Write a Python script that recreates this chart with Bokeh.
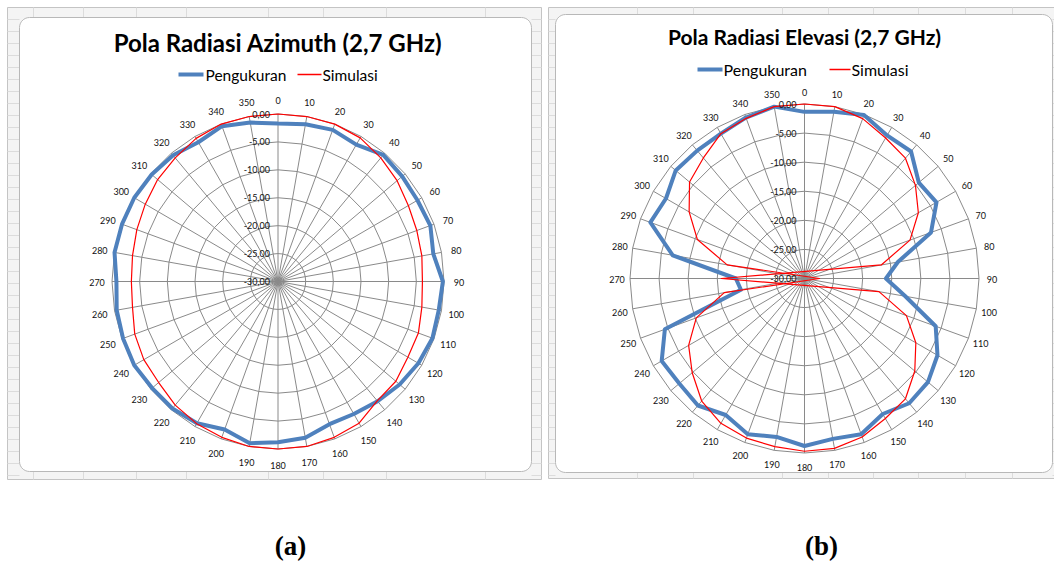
import numpy as np
from bokeh.plotting import figure
from bokeh.models import Range1d
from bokeh.embed import file_html
from bokeh.resources import INLINE
from bokeh.core.properties import value

# ---------------- data ----------------
angles = list(range(0, 360, 10))
angle_labels = [str(a) for a in angles]

azimuth_pengukuran = [-1.7, -1.4, -1.1, -1.7, -0.4, -0.7, -0.9, -0.7, -1.5, -0.2,
                      -0.5, -0.3, -0.7, -1.3, -2.0, -2.6, -2.8, -1.6, -1.2, -0.6,
                      -1.8, -0.7, -0.3, -0.3, 0.0, -0.2, -0.4, -0.8, 0.0, 0.0,
                      0.0, -0.2, -0.5, -1.2, -0.4, -1.1]
azimuth_simulasi = [0.0, 0.0, 0.0, -0.3, -1.1, -1.9, -2.8, -3.3, -3.6, -3.9,
                    -3.6, -3.0, -2.9, -2.2, -2.1, -0.7, -0.3, 0.0, 0.0, 0.0,
                    -0.3, -0.6, -1.1, -1.85, -2.0, -2.45, -3.3, -3.5, -3.3, -2.85,
                    -2.3, -1.6, -1.1, -0.4, 0.0, 0.0]
elevasi_pengukuran = [-1.35, -0.9, -0.1, -1.6, -1.5, -4.35, -3.8, -6.85, -13.7, -16.0,
                      -12.4, -6.0, -3.6, -2.3, -2.0, -3.1, -1.5, -2.0, -1.2, -2.35,
                      -1.5, -2.9, -1.5, -1.9, -1.65, -4.45, -18.9, -18.2, -7.0, -1.8,
                      -2.5, -1.1, -1.3, -1.25, -0.55, 0.0]
elevasi_simulasi = [0.0, 0.0, -0.75, -2.1, -3.0, -5.1, -7.4, -10.7, -16.6, -44.3,
                    -17.0, -11.35, -7.9, -5.25, -3.0, -2.2, -1.0, -0.35, -0.3, -0.65,
                    -0.8, -1.25, -2.5, -4.8, -7.0, -10.2, -16.0, -32.6, -16.5, -10.4,
                    -7.1, -4.2, -2.95, -1.25, -0.7, 0.0]

radial_ticks = [0, -5, -10, -15, -20, -25, -30]
radial_tick_labels = ["0,00", "-5,00", "-10,00", "-15,00", "-20,00", "-25,00", "-30,00"]
titles = ["Pola Radiasi Azimuth (2,7 GHz)", "Pola Radiasi Elevasi (2,7 GHz)"]
legend_names = ["Pengukuran", "Simulasi"]
captions = ["(a)", "(b)"]

# ---------------- layout ----------------
W, H = 1054, 561
p = figure(width=W, height=H, x_range=Range1d(0, W), y_range=Range1d(H, 0),
           output_backend="svg", toolbar_location=None, min_border=0,
           x_axis_location=None, y_axis_location=None)
p.grid.visible = False
p.outline_line_color = None
p.background_fill_color = "white"
p.border_fill_color = "white"

BLUE = "#4F81BD"
RED = "#FF0000"
GRID = "#8a8a8a"
FONT = value("Lato")


def rounded_rect(x0, y0, x1, y1, r, n=8):
    xs, ys = [], []
    corners = [(x1 - r, y0 + r, -90, 0), (x1 - r, y1 - r, 0, 90),
               (x0 + r, y1 - r, 90, 180), (x0 + r, y0 + r, 180, 270)]
    for cx, cy, a0, a1 in corners:
        t = np.radians(np.linspace(a0, a1, n))
        xs += list(cx + r * np.cos(t))
        ys += list(cy + r * np.sin(t))
    return xs, ys


def frame(ox0, oy0, ox1, oy1, ix0, iy0, ix1, iy1, cols):
    p.quad(left=ox0, right=ox1, top=oy0, bottom=oy1, fill_color="#f4f4f4",
           line_color="#c4c4c4", line_width=1)
    rows = np.arange(oy0 + 12, oy1, 12)
    xs, ys = [], []
    for yy in rows:
        xs += [[ox0, ix0], [ix1, ox1]]
        ys += [[yy, yy], [yy, yy]]
    for xx in cols:
        xs += [[xx, xx], [xx, xx]]
        ys += [[oy0, iy0], [iy1, oy1]]
    p.multi_line(xs=xs, ys=ys, line_color="#dcdcdc", line_width=1)
    rx, ry = rounded_rect(ix0, iy0, ix1, iy1, 10)
    p.patch(rx, ry, fill_color="white", line_color="#b8b8b8", line_width=1)


frame(7, 7, 541, 479, 19, 17, 531, 471, [33, 83, 136, 186, 268, 323, 386, 485])
frame(548, 7, 1062, 478, 555, 14, 1052, 472, [637, 693, 782, 828, 873, 918, 965, 1012])

th = np.radians(angles)


def polar(vals, cx, cy, rx, ry):
    r = (np.asarray(vals, dtype=float) - radial_ticks[-1]) / (radial_ticks[0] - radial_ticks[-1])
    x = cx + r * rx * np.sin(th)
    y = cy - r * ry * np.cos(th)
    return list(x) + [x[0]], list(y) + [y[0]]


def radar(cx, cy, rx, ry, meas, sim, title, tsize, leg, lsize, cap, lab_off):
    xs, ys = [], []
    for v in radial_ticks[:-1]:
        gx, gy = polar([v] * len(angles), cx, cy, rx, ry)
        xs.append(gx)
        ys.append(gy)
    p.multi_line(xs=xs, ys=ys, line_color=GRID, line_width=1)
    ox, oy = polar([radial_ticks[0]] * len(angles), cx, cy, rx, ry)
    p.segment(x0=[cx] * len(angles), y0=[cy] * len(angles), x1=ox[:-1], y1=oy[:-1],
              line_color=GRID, line_width=1)
    mx, my = polar(meas, cx, cy, rx, ry)
    p.line(mx, my, line_color=BLUE, line_width=4, line_join="round")
    sx, sy = polar(sim, cx, cy, rx, ry)
    p.line(sx, sy, line_color=RED, line_width=1.2, line_join="round")
    ty = [cy - ry * (v - radial_ticks[-1]) / (radial_ticks[0] - radial_ticks[-1]) for v in radial_ticks]
    p.text(x=[cx - 8] * len(ty), y=ty, text=radial_tick_labels, text_font=FONT,
           text_font_size="9px", text_align="right", text_baseline="middle", text_color="#111111")
    lx = cx + (rx + lab_off) * np.sin(th)
    ly = cy - (ry + lab_off) * np.cos(th) + 1
    p.text(x=list(lx), y=list(ly), text=angle_labels, text_font=FONT, text_font_size="9px",
           text_align="center", text_baseline="middle", text_color="#111111")
    p.text(x=[cx], y=[title[1]], text=[title[0]], text_font=FONT, text_font_size=tsize,
           text_font_style="bold", text_align="center", text_baseline="middle", text_color="black")
    (bx0, bx1, bt, rx0, rx1, rt, legy) = leg
    p.segment(x0=[bx0], y0=[legy], x1=[bx1], y1=[legy], line_color=BLUE, line_width=4)
    p.segment(x0=[rx0], y0=[legy], x1=[rx1], y1=[legy], line_color=RED, line_width=1.5)
    p.text(x=[bt, rt], y=[legy, legy], text=legend_names, text_font=FONT, text_font_size=lsize,
           text_align="left", text_baseline="middle", text_color="black")
    p.text(x=[cap[0]], y=[545], text=[cap[1]], text_font=value("Liberation Serif"),
           text_font_size="27px", text_font_style="bold", text_align="center",
           text_baseline="middle", text_color="black")


radar(277.5, 281, 166, 167.5, azimuth_pengukuran, azimuth_simulasi,
      (titles[0], 42), "24px", (178, 203, 205, 297, 321, 322, 74), "15.5px", (290, captions[0]), 15)
radar(804, 278, 174.5, 174.5, elevasi_pengukuran, elevasi_simulasi,
      (titles[1], 36), "21px", (697, 722, 723, 829, 850, 851, 69), "16px", (821, captions[1]), 13)

open("out.html", "w").write(file_html(p, INLINE))
